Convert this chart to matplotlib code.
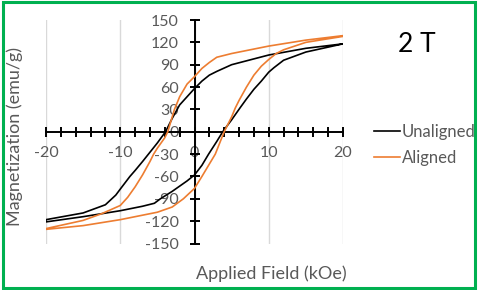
import matplotlib

matplotlib.use("Agg")
import matplotlib.pyplot as plt  # noqa: E402
from matplotlib.patches import Rectangle  # noqa: E402
from matplotlib.ticker import MultipleLocator, FormatStrFormatter  # noqa: E402

plt.rcParams["font.family"] = ["Lato", "DejaVu Sans"]
plt.rcParams["axes.unicode_minus"] = False

# Hysteresis loops (field in kOe, magnetization in emu/g).
# Each loop = descending branch (+20 -> -20) followed by ascending branch (-20 -> +20).
un_dn_H = [20, 15, 10, 5, 3, 2, 1, 0, -1, -2, -3, -3.9, -5, -6.2, -7, -8, -8.7, -10, -10.6, -12, -15, -20]
un_dn_M = [118, 112, 103, 90, 81, 76, 68, 58, 47, 36, 18, 0, -15, -30, -40, -52, -60, -77, -85, -98, -109, -118]
un_up_H = [-20, -15, -10, -7, -5.4, -4.6, -3, -2, -1, 0, 1, 1.9, 3, 3.8, 5, 6.2, 7, 8, 9, 10, 10.7, 12, 15, 20]
un_up_M = [-121, -114, -106, -100, -96, -90, -80, -73, -66, -58, -45, -30, -13, 0, 16, 33, 44, 57, 68, 80, 86, 96, 107, 118]

al_dn_H = [20, 15, 10, 5, 3, 2, 1, 0, -1, -2, -2.7, -3.6, -4, -5, -5.5, -6, -7, -8, -9, -10, -12.5, -15, -20]
al_dn_M = [129, 123, 115, 105, 100, 93, 85, 74, 64, 47, 30, 0, -8, -22, -30, -40, -58, -74, -88, -99, -110, -119, -130]
al_up_H = [-20, -15, -10, -5, -3, -1.5, 0, 1, 2.8, 4, 5, 5.5, 6, 7, 8, 9, 10, 11, 12, 15, 20]
al_up_M = [-131, -126, -118, -108, -101, -90, -76, -60, -30, 0, 20, 32, 42, 60, 76, 88, 97, 105, 110, 120, 128]

series = ["Unaligned", "Aligned"]
colors = ["#000000", "#ED7D31"]
GRAY = "#595959"

fig = plt.figure(figsize=(4.8, 2.9), dpi=100)
ax = fig.add_axes([46 / 480, 46.5 / 290, 297 / 480, 223.5 / 290])

loops = [(un_dn_H + un_up_H, un_dn_M + un_up_M), (al_dn_H + al_up_H, al_dn_M + al_up_M)]
for (h, m), name, c in zip(loops, series, colors):
    ax.plot(h, m, color=c, lw=1.2, label=name, zorder=3)

ax.set_xlim(-20, 20)
ax.set_ylim(-150, 150)
for s in ("top", "right"):
    ax.spines[s].set_visible(False)
for s in ("left", "bottom"):
    ax.spines[s].set_position(("data", 0))
    ax.spines[s].set_linewidth(1.4)
ax.xaxis.set_major_locator(MultipleLocator(10))
ax.xaxis.set_minor_locator(MultipleLocator(2))
ax.yaxis.set_major_locator(MultipleLocator(30))
ax.xaxis.set_major_formatter(FormatStrFormatter("%d"))
ax.yaxis.set_major_formatter(FormatStrFormatter("%d"))
ax.tick_params(which="both", direction="inout", length=7, width=1.4, color="black",
               labelcolor=GRAY, labelsize=11.5)
ax.tick_params(axis="x", pad=7)
ax.tick_params(axis="y", pad=8)
ax.grid(axis="x", which="major", color="#D9D9D9", lw=1)
ax.set_axisbelow(True)
ax.patch.set_visible(False)

fig.text(15 / 480, 1 - 137 / 290, "Magnetization (emu/g)", rotation=90, ha="center", va="center",
         fontsize=13, color=GRAY)
fig.text(271 / 480, 1 - 274 / 290, "Applied Field (kOe)", ha="center", va="center",
         fontsize=13, color=GRAY)
fig.text(417 / 480, 1 - 45 / 290, "2 T", ha="center", va="center", fontsize=19, color="black")

leg = ax.legend(loc="upper left", bbox_to_anchor=(374 / 480, 1 - 124 / 290), bbox_transform=fig.transFigure,
                frameon=False, fontsize=12, handlelength=1.55, handletextpad=0.12, labelspacing=0.6,
                borderpad=0, borderaxespad=0)
for t in leg.get_texts():
    t.set_color(GRAY)

fig.patches.append(Rectangle((3 / 480, 2 / 290), 472 / 480, 286 / 290, transform=fig.transFigure,
                             fill=False, edgecolor="#00B050", lw=2.2, zorder=10))

fig.savefig("out.png", dpi=100)
plt.close(fig)
